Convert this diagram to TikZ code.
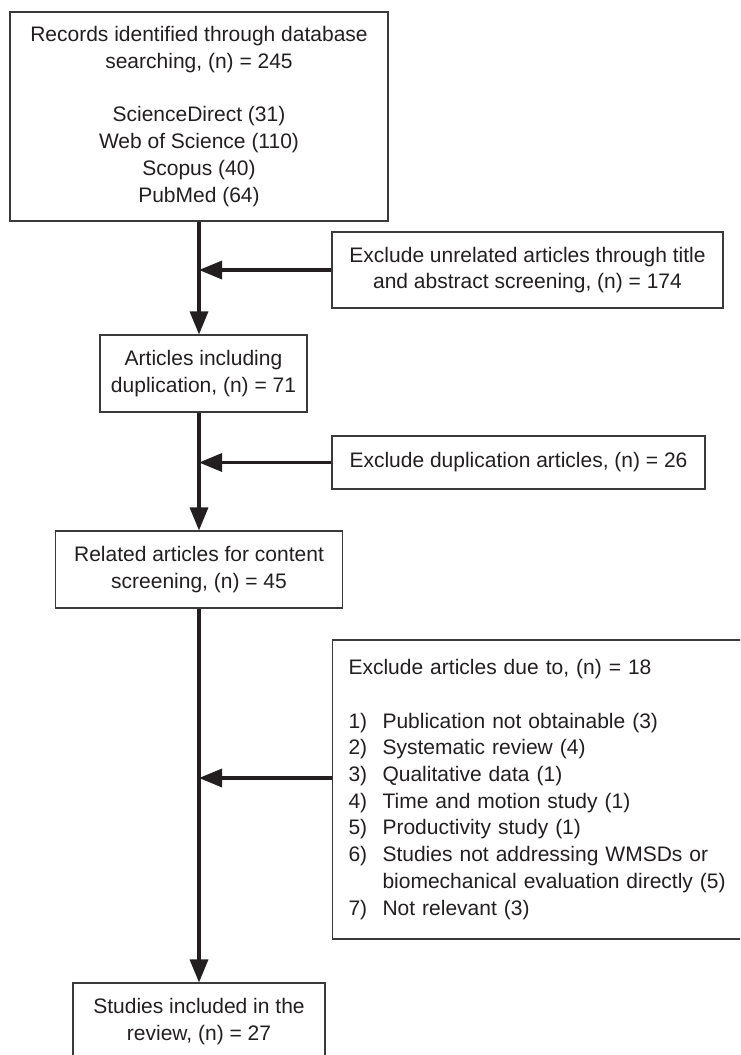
\documentclass[tikz,border=0pt]{standalone}
\usepackage{fontspec}
\setmainfont{Liberation Sans}
\usetikzlibrary{arrows.meta}
\definecolor{ink}{HTML}{231F20}
\definecolor{frame}{HTML}{3A3A3A}
\begin{document}
\begin{tikzpicture}[x=1pt,y=-1pt,
  box/.style={draw=frame, line width=1.1pt, rectangle, inner sep=0pt, text=ink,
    font=\fontsize{21}{26.7}\selectfont, align=center},
  arr/.style={draw=ink, line width=3.3pt, -{Triangle[length=23pt,width=18pt]}}]
\clip (0,0) rectangle (740,1055);
\fill[white] (0,0) rectangle (740,1055);

\node[box, minimum width=378pt, minimum height=209pt] (top) at (199,116.5)
  {Records identified through database\\searching, (n) = 245\\[26.7pt]ScienceDirect (31)\\Web of Science (110)\\Scopus (40)\\PubMed (64)};
\node[box, minimum width=391pt, minimum height=76pt] (ex1) at (527.5,270)
  {Exclude unrelated articles through title\\and abstract screening, (n) = 174};
\node[box, minimum width=207pt, minimum height=77pt] (b2) at (203.5,373.5)
  {Articles including\\duplication, (n) = 71};
\node[box, minimum width=373pt, minimum height=53pt] (ex2) at (518.5,462.5)
  {Exclude duplication articles, (n) = 26};
\node[box, minimum width=287pt, minimum height=77pt] (b3) at (199,569.5)
  {Related articles for content\\screening, (n) = 45};
\node[box, anchor=west, text width=408pt, inner xsep=16pt, minimum height=299pt, align=left] (ex3) at (332,789.5)
  {Exclude articles due to, (n) = 18\\
   \mbox{}\\
   \makebox[34pt][l]{1)}Publication not obtainable (3)\\
   \makebox[34pt][l]{2)}Systematic review (4)\\
   \makebox[34pt][l]{3)}Qualitative data (1)\\
   \makebox[34pt][l]{4)}Time and motion study (1)\\
   \makebox[34pt][l]{5)}Productivity study (1)\\
   \makebox[34pt][l]{6)}Studies not addressing WMSDs or\\
   \hspace*{34pt}biomechanical evaluation directly (5)\\
   \makebox[34pt][l]{7)}Not relevant (3)};
\node[box, minimum width=252pt, minimum height=77pt] (b4) at (199,1021.5)
  {Studies included in the\\review, (n) = 27};

\coordinate (j3) at (199,778);

\draw[arr] (top.south) -- (top.south |- b2.north);
\draw[arr] (ex1.west) -- (ex1.west -| top.south);
\draw[arr] (top.south |- b2.south) -- (b3.north);
\draw[arr] (ex2.west) -- (ex2.west -| top.south);
\draw[arr] (b3.south) -- (b4.north);
\draw[arr] (ex3.west |- j3) -- (j3);
\end{tikzpicture}
\end{document}
